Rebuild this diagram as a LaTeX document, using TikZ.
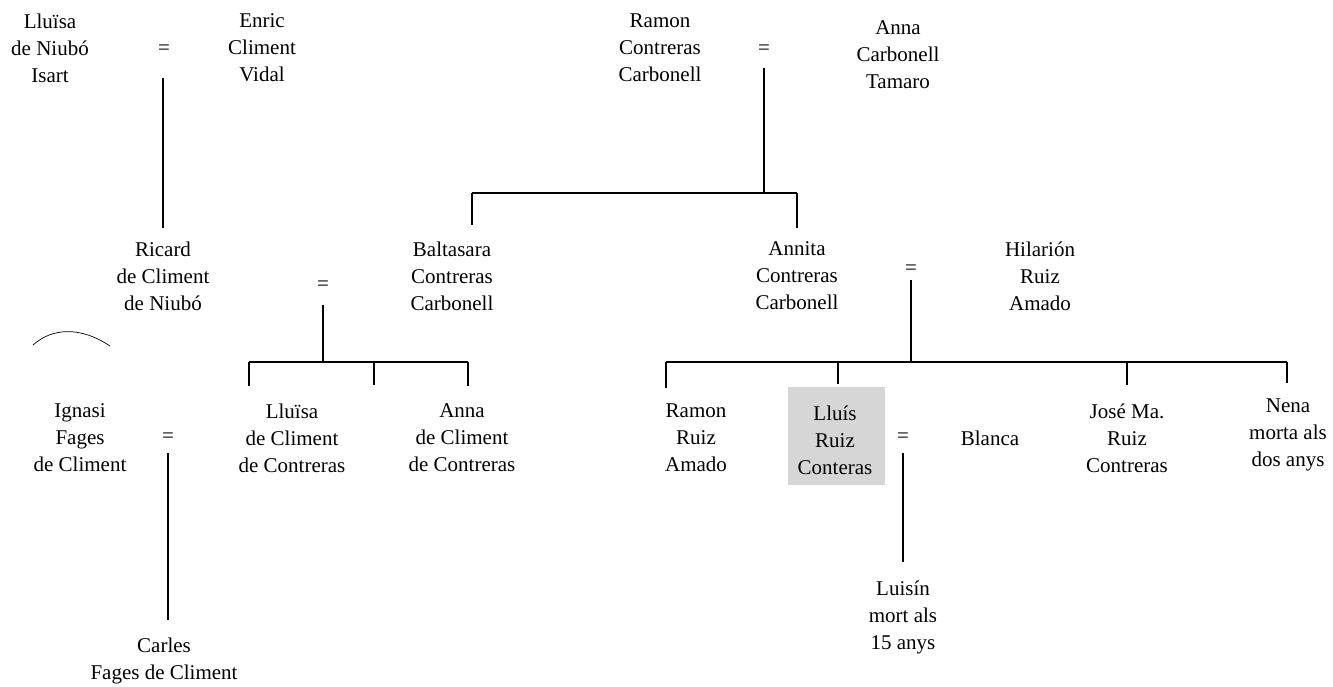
\documentclass[tikz,border=0pt]{standalone}
\usepackage{fontspec}
\setmainfont{Liberation Serif}
\newcommand\famfs{\fontsize{21}{27}\selectfont}
\tikzset{
  person/.style={align=center, inner sep=0pt, font=\famfs},
  eqs/.style={inner sep=0pt, font=\famfs},
  rel/.style={line width=1.5pt},
  boxed/.style={fill=black!16, inner sep=0pt}
}
\begin{document}
\begin{tikzpicture}[x=1pt,y=-1pt]
\useasboundingbox (0,0) rectangle (1333,687);
% ---- top left couple
\node[person] (lluisa) at (50,48) {Lluïsa\\de Niubó\\Isart};
\node[eqs] (eq1) at (164,50) {=};
\node[person] (enric) at (262,48) {Enric\\Climent\\Vidal};
\coordinate (a1) at (163,78);
\coordinate (a2) at (163,228);
\draw[rel] (a1) -- (a2);
% ---- Ricard = Baltasara
\node[person] (ricard) at (163,276) {Ricard\\de Climent\\de Niubó};
\node[eqs] (eq2) at (323,286) {=};
\node[person] (baltasara) at (452,276) {Baltasara\\Contreras\\Carbonell};
\coordinate (b1) at (323,305);
\coordinate (b2) at (323,362);
\coordinate (bl) at (249,362);
\coordinate (bm) at (374,362);
\coordinate (br) at (468,362);
\draw[rel] (b1) -- (b2);
\draw[rel] (bl) -- (br);
\draw[rel] (bl) -- ++(0,24);
\draw[rel] (bm) -- ++(0,23);
\draw[rel] (br) -- ++(0,24);
\node[person] (lluisa2) at (292,438) {Lluïsa\\de Climent\\de Contreras};
\node[person] (anna2) at (462,438) {Anna\\de Climent\\de Contreras};
% ---- Ignasi = Lluïsa
\node[person] (ignasi) at (80,438) {Ignasi\\Fages\\de Climent};
\node[eqs] (eq3) at (168,438) {=};
\coordinate (c1) at (168,453);
\coordinate (c2) at (168,620);
\draw[rel] (c1) -- (c2);
\node[person] (carles) at (164,661) {Carles\\Fages de Climent};
% arc
\draw[line width=0.7pt] (33,345) .. controls (52,328) and (80,326) .. (110,346);
% ---- top right couple
\node[person] (ramon) at (660,48) {Ramon\\Contreras\\Carbonell};
\node[eqs] (eq4) at (764,50) {=};
\node[person] (anna) at (898,55) {Anna\\Carbonell\\Tamaro};
\coordinate (d1) at (764,68);
\coordinate (d2) at (764,193);
\coordinate (dl) at (472,193);
\coordinate (dr) at (797,193);
\draw[rel] (d1) -- (d2);
\draw[rel] (dl) -- (dr);
\draw[rel] (dl) -- ++(0,32);
\draw[rel] (dr) -- ++(0,35);
% ---- Annita = Hilarion
\node[person] (annita) at (797,276) {Annita\\Contreras\\Carbonell};
\node[eqs] (eq5) at (911,270) {=};
\node[person] (hilarion) at (1040,276) {Hilarión\\Ruiz\\Amado};
\coordinate (e1) at (911,280);
\coordinate (e2) at (911,362);
\coordinate (el) at (666,362);
\coordinate (e3) at (838,362);
\coordinate (e4) at (1127,362);
\coordinate (er) at (1287,362);
\draw[rel] (e1) -- (e2);
\draw[rel] (el) -- (er);
\draw[rel] (el) -- ++(0,26);
\draw[rel] (e3) -- ++(0,22);
\draw[rel] (e4) -- ++(0,23);
\draw[rel] (er) -- ++(0,21);
% ---- children
\node[person] (ramon2) at (696,438) {Ramon\\Ruiz\\Amado};
\node[boxed, minimum width=97pt, minimum height=98pt] (lluisbox) at (836.5,436) {};
\node[person] (lluis) at (835,440) {Lluís\\Ruiz\\Conteras};
\node[eqs] (eq6) at (903,438) {=};
\node[person] (blanca) at (990,438) {Blanca};
\node[person] (jose) at (1127,438) {José Ma.\\Ruiz\\Contreras};
\node[person] (nena) at (1288,435) {Nena\\morta als\\dos anys};
\coordinate (f1) at (903,453);
\coordinate (f2) at (903,562);
\draw[rel] (f1) -- (f2);
\node[person] (luisin) at (903,617) {Luisín\\mort als\\15 anys};
\end{tikzpicture}
\end{document}
